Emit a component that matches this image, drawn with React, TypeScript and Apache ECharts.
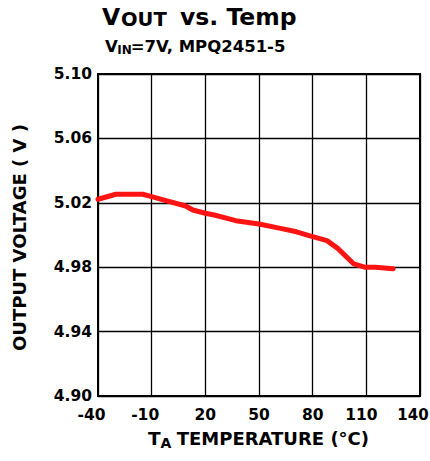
import React, { useEffect, useRef } from "react";
import * as echarts from "echarts";

const temps = [-40, -30, -15, -10, -2, 9, 13, 20, 25, 37, 50, 62, 71, 78, 88, 94, 103, 109, 115, 125];
const vout = [5.0222, 5.0253, 5.0253, 5.0238, 5.0213, 5.018, 5.0155, 5.0135, 5.0124, 5.0089, 5.0068, 5.0041, 5.002, 4.9996, 4.9965, 4.9917, 4.982, 4.98, 4.98, 4.979];
const xTickLabels = [-40, -10, 20, 50, 80, 110, 140];
const yTickLabels = ["4.90", "4.94", "4.98", "5.02", "5.06", "5.10"];

const FONT = "'DejaVu Sans', Verdana, Arial, sans-serif";

function txt(text: string, x: number, y: number, size: number, extra: any = {}) {
  return {
    type: "text",
    x,
    y,
    ...extra,
    style: {
      text,
      fontSize: size,
      fontWeight: "bold",
      fontFamily: FONT,
      fill: "#000",
      align: extra.align || "left",
      verticalAlign: "middle",
      textAlign: extra.align || "left",
      textVerticalAlign: "middle",
    },
  };
}

const labelFont = { fontSize: 15.5, fontWeight: "bold", fontFamily: FONT, color: "#000" };

export default function App() {
  const ref = useRef<HTMLDivElement>(null);
  useEffect(() => {
    if (!ref.current) return;
    const chart = echarts.init(ref.current, null, { renderer: "svg" });
    const data = temps.map((t, i) => [t, vout[i]]);
    chart.setOption({
      animation: false,
      backgroundColor: "#fff",
      grid: {
        left: 98,
        right: 10,
        top: 74,
        bottom: 65,
        containLabel: false,
        outerBoundsMode: "none",
        show: true,
        borderColor: "#000",
        borderWidth: 2,
        backgroundColor: "transparent",
      },
      xAxis: {
        type: "value",
        min: -40,
        max: 140,
        interval: 10,
        axisLine: { show: true, onZero: false, lineStyle: { color: "#000", width: 2 } },
        axisTick: { show: false },
        axisLabel: {
          formatter: (v: number) => {
            const r = Math.round(v);
            if (!xTickLabels.includes(r)) return "";
            if (r < 0) return "{n|" + r + "}";
            if (r === 110) return "{m|" + r + "}";
            if (r === 140) return "{e|" + r + "}";
            return "{d|" + r + "}";
          },
          ...labelFont,
          margin: 11,
          rich: {
            d: { ...labelFont },
            n: { ...labelFont, padding: [0, 13, 0, 0] },
            m: { ...labelFont, padding: [0, 10, 0, 0] },
            e: { ...labelFont, fontSize: 15, padding: [0, 14, 0, 0] },
          },
        },
        splitLine: {
          show: true,
          lineStyle: { color: ["#000", "transparent", "transparent"], width: 1.3 },
        },
      },
      yAxis: {
        type: "value",
        min: 4.9,
        max: 5.1,
        interval: 0.02,
        axisLine: { show: true, onZero: false, lineStyle: { color: "#000", width: 2 } },
        axisTick: { show: false },
        axisLabel: {
          formatter: (v: number) => {
            const s = v.toFixed(2);
            return yTickLabels.includes(s) ? s : "";
          },
          ...labelFont,
          margin: 6,
        },
        splitLine: {
          show: true,
          lineStyle: { color: ["#000", "transparent"], width: 1.3 },
        },
      },
      graphic: [
        txt("V", 102, 17, 23.5),
        txt("OUT", 121, 19.4, 19.5),
        txt("vs. Temp", 180, 17, 23.5),
        txt("V", 105, 46.6, 16.5),
        txt("IN", 117.3, 50.2, 12),
        txt("=7V, MPQ2451-5", 130.7, 46.6, 16.5),
        txt("T", 148, 438.6, 18.5),
        txt("A", 160.5, 443, 14),
        txt("TEMPERATURE (°C)", 176.7, 438.8, 18),
        txt("OUTPUT VOLTAGE ( V )", 19, 237.5, 18, { rotation: Math.PI / 2, align: "center" }),
      ],
      series: [
        {
          type: "line",
          data,
          symbol: "none",
          showSymbol: false,
          lineStyle: { color: "#ff1414", width: 5, cap: "round", join: "round" },
          itemStyle: { color: "#ff1414" },
        },
      ],
    });
    return () => chart.dispose();
  }, []);
  return (
    <div
      ref={ref}
      style={{ position: "fixed", left: 0, top: 0, width: 430, height: 461, background: "#fff" }}
    />
  );
}
